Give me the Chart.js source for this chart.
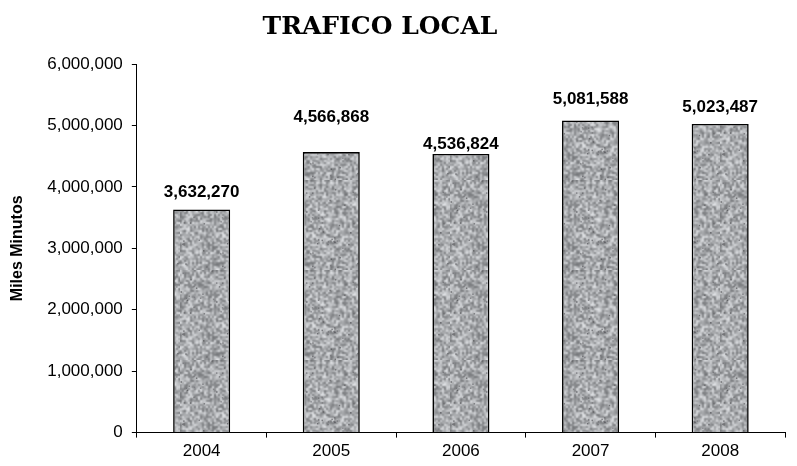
<!DOCTYPE html>
<html>
<head>
<meta charset="utf-8">
<script src="https://cdn.jsdelivr.net/npm/chart.js@4/dist/chart.umd.min.js"></script>
<style>
  html, body { margin: 0; padding: 0; background: #fff; }
  #wrap { width: 797px; height: 466px; }
</style>
</head>
<body>
<div id="wrap"><canvas id="traficoChart" width="797" height="466"></canvas></div>
<script>
// Datos
const years = ["2004", "2005", "2006", "2007", "2008"];
const minutos = [3632270, 4566868, 4536824, 5081588, 5023487];
const labelGap = [12, 30, 5, 16, 12];

// Textura tipo granito para las barras
function granitePattern() {
  let s = 98765;
  const rnd = () => { s = (s * 16807) % 2147483647; return s / 2147483647; };
  const small = document.createElement("canvas");
  small.width = 45; small.height = 45;
  const sg = small.getContext("2d");
  for (let y = 0; y < 45; y++) {
    for (let x = 0; x < 45; x++) {
      const v = Math.floor(115 + rnd() * 110);
      sg.fillStyle = "rgb(" + v + "," + (v + 2) + "," + (v + 5) + ")";
      sg.fillRect(x, y, 1, 1);
    }
  }
  const c = document.createElement("canvas");
  c.width = 90; c.height = 90;
  const g = c.getContext("2d");
  g.imageSmoothingEnabled = true;
  for (const ox of [-90, 0, 90]) {
    for (const oy of [-90, 0, 90]) {
      g.drawImage(small, ox, oy, 90, 90);
    }
  }
  for (let i = 0; i < 70; i++) {
    const x = rnd() * 90, y = rnd() * 90;
    const v = Math.floor(60 + rnd() * 50);
    g.fillStyle = "rgba(" + v + "," + v + "," + (v + 4) + ",0.6)";
    g.fillRect(x, y, 1.5, 1.5);
  }
  return g.createPattern(c, "repeat");
}

const fmt = (v) => v.toLocaleString("en-US");

// Título centrado como en el original
const titlePlugin = {
  id: "titlePlugin",
  afterDraw(chart) {
    const ctx = chart.ctx;
    ctx.save();
    ctx.font = "bold 25px 'DejaVu Serif', 'Liberation Serif', serif";
    ctx.fillStyle = "#000";
    ctx.textAlign = "center";
    ctx.textBaseline = "alphabetic";
    ctx.fillText("TRAFICO LOCAL", 380, 34);
    ctx.restore();
  },
};

// Etiquetas encima de las barras
const valueLabels = {
  id: "valueLabels",
  afterDatasetsDraw(chart) {
    const ctx = chart.ctx;
    const meta = chart.getDatasetMeta(0);
    ctx.save();
    ctx.font = "bold 17px 'Liberation Sans', Arial, sans-serif";
    ctx.fillStyle = "#000";
    ctx.textAlign = "center";
    ctx.textBaseline = "alphabetic";
    meta.data.forEach((bar, i) => {
      ctx.fillText(fmt(minutos[i]), bar.x, bar.y - labelGap[i]);
    });
    ctx.restore();
  },
};

const ctx = document.getElementById("traficoChart").getContext("2d");
const chart = new Chart(ctx, {
  type: "bar",
  data: {
    labels: years,
    datasets: [
      {
        data: minutos,
        backgroundColor: granitePattern(),
        borderColor: "#000",
        borderWidth: 1.6,
        barPercentage: 0.44,
        categoryPercentage: 1,
      },
    ],
  },
  options: {
    responsive: false,
    animation: false,
    layout: { padding: { left: 8, right: 12, top: 64, bottom: 0 } },
    plugins: {
      legend: { display: false },
      tooltip: { enabled: false },
      title: { display: false },
    },
    scales: {
      x: {
        offset: true,
        grid: { offset: true, drawOnChartArea: false, drawTicks: true, tickLength: 5, color: "#000" },
        border: { color: "#000", width: 1 },
        ticks: { color: "#000", font: { family: "'Liberation Sans', Arial, sans-serif", size: 17 }, padding: 4 },
      },
      y: {
        min: 0,
        max: 6000000,
        ticks: {
          stepSize: 1000000,
          color: "#000",
          font: { family: "'Liberation Sans', Arial, sans-serif", size: 17 },
          padding: 9,
          callback: (v) => fmt(v),
        },
        grid: { drawOnChartArea: false, drawTicks: true, tickLength: 5, color: "#000" },
        border: { color: "#000", width: 1 },
        title: {
          display: true,
          text: "Miles Minutos",
          color: "#000",
          font: { family: "'Liberation Sans', Arial, sans-serif", size: 16, weight: "bold" },
          padding: { top: 0, bottom: 11 },
        },
      },
    },
  },
  plugins: [valueLabels, titlePlugin],
});
</script>
</body>
</html>
